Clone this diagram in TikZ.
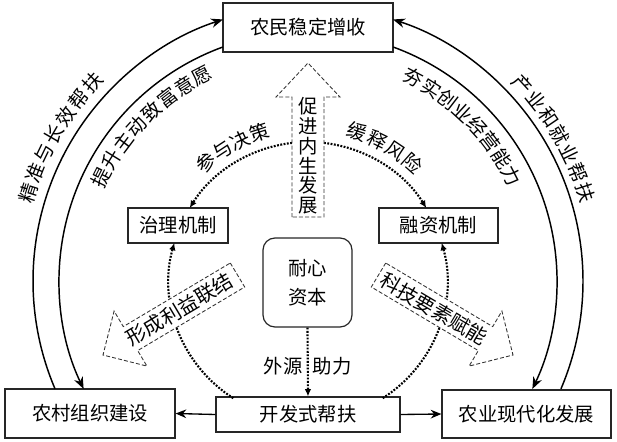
\documentclass[tikz,border=0pt]{standalone}
\usepackage{fontspec}
\setmainfont{Noto Sans CJK SC}
\usetikzlibrary{arrows.meta,calc}
\begin{document}
\begin{tikzpicture}[x=0.75pt,y=-0.75pt,
  box/.style={draw=black!85,line width=0.9pt,inner sep=0pt,fill=white,font=\fontsize{14.5}{16}\selectfont},
  lab/.style={inner sep=0pt,font=\fontsize{14.5}{16}\selectfont},
  bigarr/.style={line width=1.1pt,-{Stealth[length=9pt,width=7pt]}},
  solarr/.style={line width=1pt,-{Stealth[length=8pt,width=6.5pt]}},
  dotarr/.style={line width=1.6pt,dash pattern=on 1.4pt off 1.1pt,-{Latex[length=5.5pt,width=5pt]}},
  dasharr/.style={draw=black!80,line width=0.65pt,dash pattern=on 3pt off 1.6pt,fill=white},
  arrlab/.style={inner sep=0pt,font=\fontsize{15}{16}\selectfont}]
\useasboundingbox (0,0) rectangle (617,442);
\coordinate (C) at (308,281);

% boxes
\node[box,minimum width=127.5pt,minimum height=36.75pt] (top) at (308,27.5) {农民稳定增收};
\node[box,minimum width=75pt,minimum height=26.25pt] (zl) at (178,225.5) {治理机制};
\node[box,minimum width=89.25pt,minimum height=26.25pt] (rz) at (438.5,225.5) {融资机制};
\node[box,minimum width=66.75pt,minimum height=66.75pt,rounded corners=9pt,align=center,
      font=\fontsize{14.5}{22}\selectfont] (nx) at (307.5,282.5) {耐心\\资本};
\node[box,minimum width=127.5pt,minimum height=36.75pt] (nc) at (90,413.5) {农村组织建设};
\node[box,minimum width=138pt,minimum height=26.25pt] (kf) at (308,414.5) {开发式帮扶};
\node[box,minimum width=126.75pt,minimum height=36pt] (ny) at (526.5,414) {农业现代化发展};

% big arcs
\coordinate (oL) at ($(C)+(156.9:275)$);
\coordinate (iL) at ($(C)+(250:249)$);
\coordinate (oR) at ($(C)+(23.1:275)$);
\coordinate (iR) at ($(C)+(-70:249)$);
\draw[bigarr] (oL) arc[start angle=156.9,end angle=252,radius=275];
\draw[bigarr] (iL) arc[start angle=250,end angle=154.3,radius=249];
\draw[bigarr] (oR) arc[start angle=23.1,end angle=-72,radius=275];
\draw[bigarr] (iR) arc[start angle=-70,end angle=25.7,radius=249];

% bottom arrows
\draw[solarr] (kf.west) -- (nc.east);
\draw[solarr] (kf.east) -- (ny.west);

% dotted circle arcs
\coordinate (d1) at ($(C)+(263.4:139)$);
\coordinate (d2) at ($(C)+(276.6:139)$);
\coordinate (d3) at ($(C)+(122.5:139)$);
\coordinate (d4) at ($(C)+(57.5:139)$);
\draw[dotarr] (d1) arc[start angle=263.4,end angle=211.7,radius=139];
\draw[dotarr] (d2) arc[start angle=276.6,end angle=328.3,radius=139];
\draw[dotarr] (d3) arc[start angle=122.5,end angle=195.9,radius=139];
\draw[dotarr] (d4) arc[start angle=57.5,end angle=-15.9,radius=139];
\draw[dotarr] (nx.south) -- (kf.north);

% dashed block arrows
\draw[dasharr] (292,217) -- (292,97) -- (276,97) -- (308,63) -- (340,97) -- (324,97) -- (324,217) -- cycle;
\node[arrlab,align=center,font=\fontsize{14.5}{14.8}\selectfont] (cj) at (308,156) {促\\进\\内\\生\\发\\展};
\draw[dasharr] (230.3,263) -- (244.7,287) -- (137.7,350.6) -- (146.9,366.1) -- (103,355) -- (114.1,311.1) -- (123.3,326.6) -- cycle;
\node[arrlab,rotate=30.7] (xc) at (179.5,309.6) {形成利益联结};
\draw[dasharr] (385.7,263) -- (371.3,287) -- (478.3,350.6) -- (469.1,366.1) -- (513,355) -- (501.9,311.1) -- (492.7,326.6) -- cycle;
\node[arrlab,rotate=-30.7] (kj) at (434,309) {科技要素赋能};

% labels
\node[lab] (wy) at (283,366) {外源};
\node[lab] (zhl) at (332,366) {助力};
\foreach \c [count=\i from 0] in {精,准,与,长,效,帮,扶}{
  \pgfmathsetmacro\a{197.4+\i*4.2}
  \node[lab,rotate={-\a-90}] at ($(C)+(\a:293)$) {\c};}
\foreach \c [count=\i from 0] in {提,升,主,动,致,富,意,愿}{
  \pgfmathsetmacro\a{206.6+\i*5.17}
  \node[lab,rotate={-\a-90}] at ($(C)+(\a:231)$) {\c};}
\foreach \c [count=\i from 0] in {夯,实,创,业,经,营,能,力}{
  \pgfmathsetmacro\a{-62.5+\i*5.04}
  \node[lab,rotate={-\a-90}] at ($(C)+(\a:229)$) {\c};}
\foreach \c [count=\i from 0] in {产,业,和,就,业,帮,扶}{
  \pgfmathsetmacro\a{-42.5+\i*4.13}
  \node[lab,rotate={-\a-90}] at ($(C)+(\a:291)$) {\c};}
\foreach \c [count=\i from 0] in {参,与,决,策}{
  \pgfmathsetmacro\a{229.1+\i*7.63}
  \node[lab,rotate={-\a-90}] at ($(C)+(\a:156)$) {\c};}
\foreach \c [count=\i from 0] in {缓,释,风,险}{
  \pgfmathsetmacro\a{-71.7+\i*7.8}
  \node[lab,rotate={-\a-90}] at ($(C)+(\a:157)$) {\c};}
\end{tikzpicture}
\end{document}
